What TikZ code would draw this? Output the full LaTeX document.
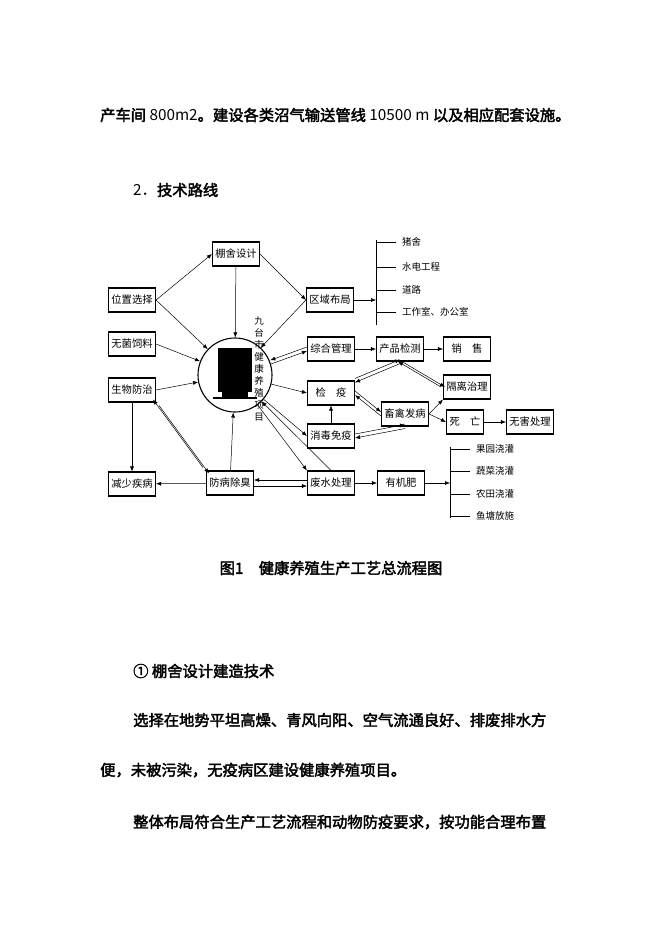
\documentclass[tikz,border=0pt]{standalone}
\usepackage{fontspec}
\setmainfont{Liberation Sans}
\newfontfamily\cjk{Noto Sans CJK SC}[BoldFont=Noto Sans CJK SC,BoldFeatures={FakeBold=2.5}]
\usetikzlibrary{arrows.meta,calc}
\begin{document}
\begin{tikzpicture}[x=1pt,y=-1pt,
  bx/.style={draw,line width=1.1pt,minimum width=47pt,minimum height=24pt,inner sep=0pt,font=\cjk\fontsize{10.3}{11}\selectfont},
  arr/.style={-{Latex[length=5pt,width=4pt]},line width=0.5pt},
  ln/.style={line width=0.5pt},
  lab/.style={font=\cjk\fontsize{9.5}{10}\selectfont,anchor=west,inner sep=0pt},
  txt/.style={font=\cjk\bfseries\fontsize{15.3}{16}\selectfont,anchor=west,inner sep=0pt}]
\useasboundingbox (0,0) rectangle (662,936);
% text
\node[txt] (t1) at (100,115) {产车间 {\mdseries 800m2}。建设各类沼气输送管线 {\mdseries 10500 m} 以及相应配套设施。};
\node[txt] (t2) at (133,190) {{\mdseries 2．}技术路线};
\node[txt,anchor=center] (cap) at (331,568) {图1\quad 健康养殖生产工艺总流程图};
\node[txt] (h1) at (133,671) {① 棚舍设计建造技术};
\node[txt] (p1) at (133,720) {选择在地势平坦高燥、青风向阳、空气流通良好、排废排水方};
\node[txt] (p2) at (100,770) {便，未被污染，无疫病区建设健康养殖项目。};
\node[txt] (p3) at (133,822) {整体布局符合生产工艺流程和动物防疫要求，按功能合理布置};
% boxes
\node[bx] (pssj) at (236,254) {棚舍设计};
\node[bx] (wzxz) at (132,300) {位置选择};
\node[bx] (qybj) at (330,300) {区域布局};
\node[bx] (wjsl) at (132,344) {无菌饲料};
\node[bx] (swfz) at (132,390) {生物防治};
\node[bx] (jsjb) at (132,484) {减少疾病};
\node[bx] (fbcc) at (230,483) {防病除臭};
\node[bx] (zhgl) at (331,349) {综合管理};
\node[bx] (jy) at (331,393) {检\quad 疫};
\node[bx] (xdmy) at (331,436) {消毒免疫};
\node[bx] (fscl) at (331,483) {废水处理};
\node[bx] (cpjc) at (400,349) {产品检测};
\node[bx] (xs) at (467,349) {销\quad 售};
\node[bx] (glzl) at (467,387) {隔离治理};
\node[bx] (xqfb) at (405,414) {畜禽发病};
\node[bx,minimum width=37pt] (sw) at (465,422) {死\quad 亡};
\node[bx] (whcl) at (530,422) {无害处理};
\node[bx] (yjf) at (401,483) {有机肥};
% circle
\node[draw,circle,line width=1.1pt,minimum size=74pt,inner sep=0pt] (c) at (235,375) {};
\fill (218,348) rectangle (252,392);
\fill (222,392) rectangle (248,398);
\draw[line width=1.5pt] (213,398) -- (257,398);
\node[font=\cjk\fontsize{9.5}{10}\selectfont,align=center,inner sep=0pt,anchor=north] (vt) at (259,316) {九\\[2pt]台\\[2pt]市\\[2pt]健\\[2pt]康\\[2pt]养\\[2pt]殖\\[2pt]项\\[2pt]目};
% brackets
\draw[ln] (376,240) -- (376,325);
\foreach \yy/\tt in {242/猪舍,267/水电工程,290/道路,312/工作室、办公室}{\draw[ln] (376,\yy) -- (396,\yy); \node[lab] at (402,\yy) {\tt};}
\coordinate (b1) at (376,300);
\draw[arr] (qybj) -- (b1);
\draw[ln] (450,447) -- (450,518);
\foreach \yy/\tt in {449/果园浇灌,471/蔬菜浇灌,494/农田浇灌,516/鱼塘放施}{\draw[ln] (450,\yy) -- (470,\yy); \node[lab] at (476,\yy) {\tt};}
\coordinate (b2) at (450,483);
\draw[arr] (yjf) -- (b2);
% connectors
\draw[arr] (wzxz.east) -- (pssj.west);
\draw[arr] (wzxz.east) -- (c);
\draw[arr] (pssj.east) -- (qybj.west);
\draw[arr] (pssj) -- (c);
\draw[arr] (qybj.west) -- (c);
\draw[arr] (wjsl.east) -- (c);
\draw[arr] (swfz.east) -- (c);
\draw[arr] (swfz.south) -- (jsjb.north);
\draw[arr,transform canvas={xshift=3pt,yshift=-3pt}] (swfz.south east) -- (fbcc.north west);
\draw[arr,transform canvas={xshift=-3pt,yshift=3pt}] (fbcc.north west) -- (swfz.south east);
\draw[arr] (fbcc) -- (jsjb);
\draw[arr] (fbcc) -- (c);
\draw[arr,transform canvas={yshift=-3pt}] (fbcc.east) -- (fscl.west);
\draw[arr,transform canvas={yshift=3pt}] (fscl.west) -- (fbcc.east);
\draw[arr] (c) -- (fscl.north west);
\draw[arr] (fscl.north) -- (c);
\draw[arr,transform canvas={yshift=-2pt}] (c) -- (zhgl.west);
\draw[arr,transform canvas={yshift=2pt}] (zhgl.west) -- (c);
\draw[arr] (c) -- (jy.west);
\draw[arr] (c) -- (xdmy.west);
\draw[arr] (zhgl) -- (cpjc);
\draw[arr] (cpjc) -- (xs);
\draw[arr,transform canvas={yshift=-2pt}] (cpjc.south) -- (jy.north east);
\draw[arr,transform canvas={yshift=2pt}] (jy.north east) -- (cpjc.south);
\draw[arr,transform canvas={xshift=2pt}] (cpjc.south) -- (glzl.west);
\draw[arr,transform canvas={xshift=-2pt}] (glzl.west) -- (cpjc.south);
\draw[arr,transform canvas={yshift=2pt}] (jy.east) -- (xqfb.west);
\draw[arr,transform canvas={yshift=-2pt}] (xqfb.west) -- (jy.east);
\draw[arr] (xdmy) -- (jy);
\draw[arr,transform canvas={yshift=-2pt}] (xqfb.south) -- (xdmy.east);
\draw[arr,transform canvas={yshift=2pt}] (xdmy.east) -- (xqfb.south);
\draw[arr] (xqfb.east) -- (glzl.south west);
\draw[arr] (xqfb.east) -- (sw.west);
\draw[arr] (sw) -- (whcl);
\draw[arr] (fscl) -- (yjf);
\end{tikzpicture}
\end{document}
